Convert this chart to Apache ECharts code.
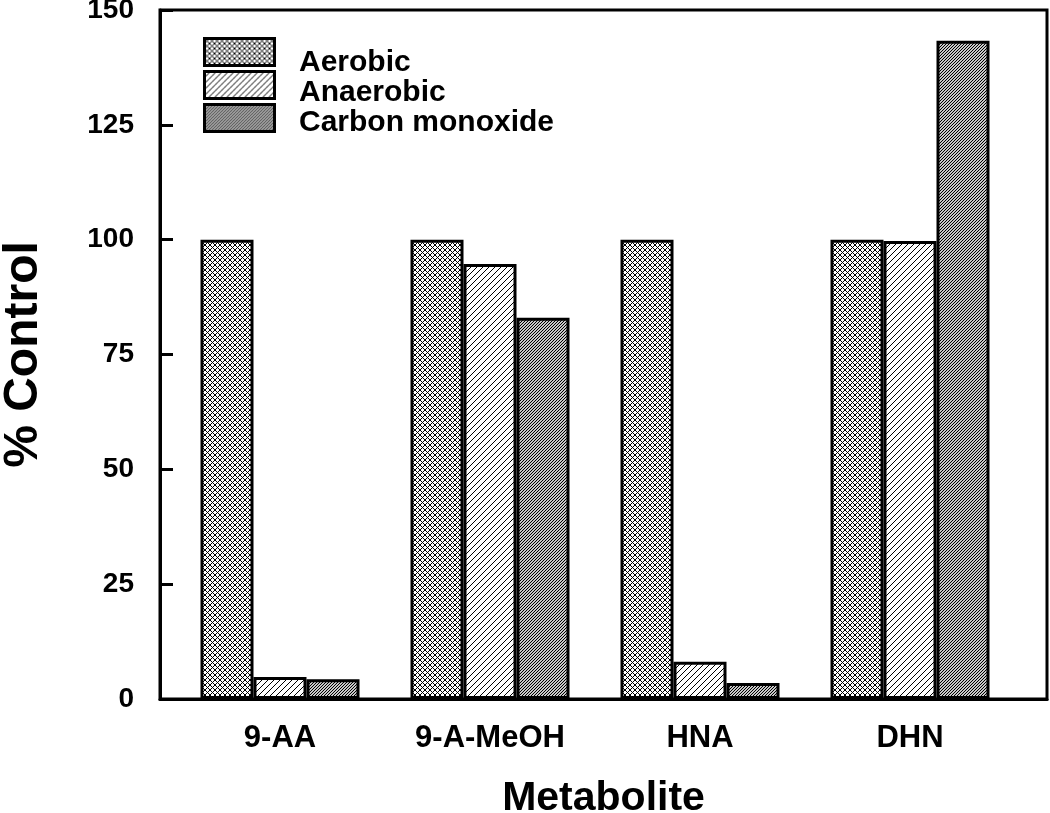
<!DOCTYPE html>
<html><head><meta charset="utf-8">
<script src="https://cdn.jsdelivr.net/npm/echarts@6/dist/echarts.min.js"></script>
<style>html,body{margin:0;padding:0;background:#fff}#c{width:1050px;height:813px}</style>
</head><body><div id="c"></div>
<script>
const categories = ['9-AA', '9-A-MeOH', 'HNA', 'DHN'];
const seriesNames = ['Aerobic', 'Anaerobic', 'Carbon monoxide'];
const aerobic = [100, 100, 100, 100];
const anaerobic = [4.8, 94.7, 8.1, 99.7];
const carbonMonoxide = [4.3, 83.0, 3.5, 143.3];
const yMin = 0, yMax = 150, yStep = 25;

function makeTile(size, bg, draw) {
  const c = document.createElement('canvas');
  c.width = size; c.height = size;
  const g = c.getContext('2d');
  g.fillStyle = bg; g.fillRect(0, 0, size, size);
  g.fillStyle = '#000';
  draw(g, size);
  return c;
}
const crossTile = makeTile(5, '#fff', (g, n) => { for (let i = 0; i < n; i++) { g.fillRect(i, n - 1 - i, 1, 1); g.fillRect(i, i, 1, 1); } });
const diagTile = makeTile(6, '#fff', (g, n) => { for (let i = 0; i < n; i++) { g.fillRect(i, n - 1 - i, 1, 1); } });
const denseTile = makeTile(3, '#c8c8c8', (g, n) => { for (let i = 0; i < n; i++) { g.fillRect(i, n - 1 - i, 1, 1); } });
const fills = [crossTile, diagTile, denseTile].map(t => ({ image: t, repeat: 'repeat' }));
const values = [aerobic, anaerobic, carbonMonoxide];

const FONT = '"Liberation Sans", Arial, sans-serif';
const chart = echarts.init(document.getElementById('c'), null, { renderer: 'canvas' });
const option = {
  animation: false,
  backgroundColor: '#fff',
  grid: [
    { left: 160, right: 3, top: 10, bottom: 114, outerBoundsMode: 'none', containLabel: false, show: true, borderColor: '#000', borderWidth: 3, backgroundColor: 'transparent' },
    { left: 175, right: 35, top: 10, bottom: 114, outerBoundsMode: 'none', containLabel: false }
  ],
  legend: [
    { // swatches
      orient: 'vertical', left: 198, top: 32,
      itemWidth: 70, itemHeight: 27, itemGap: 3,
      icon: 'rect', data: seriesNames, selectedMode: false,
      itemStyle: { borderColor: '#000', borderWidth: 3 },
      formatter: () => '',
      textStyle: { fontSize: 1 }
    },
    { // labels
      orient: 'vertical', left: 289, top: 43,
      itemWidth: 0, itemHeight: 30, itemGap: 0,
      icon: 'none', data: seriesNames, selectedMode: false,
      textStyle: { fontFamily: FONT, fontWeight: 'bold', fontSize: 30, color: '#000' }
    }
  ],
  xAxis: [
    { gridIndex: 0, type: 'value', min: 0, max: 1, axisLine: { show: true, lineStyle: { color: '#000', width: 3 } }, axisTick: { show: false }, axisLabel: { show: false }, splitLine: { show: false },
      name: 'Metabolite', nameLocation: 'middle', nameGap: 79, nameTextStyle: { fontFamily: FONT, fontWeight: 'bold', fontSize: 41, color: '#000' } },
    { gridIndex: 1, type: 'category', data: categories, axisLine: { show: false }, axisTick: { show: false },
      axisLabel: { margin: 24, fontFamily: FONT, fontWeight: 'bold', fontSize: 31, color: '#000' } }
  ],
  yAxis: [
    { gridIndex: 0, type: 'value', min: yMin, max: yMax, interval: yStep,
      axisLine: { show: true, lineStyle: { color: '#000', width: 3 } },
      axisTick: { show: true, inside: true, length: 13, lineStyle: { color: '#000', width: 3 } },
      axisLabel: { margin: 26, fontFamily: FONT, fontWeight: 'bold', fontSize: 28, color: '#000' },
      splitLine: { show: false },
      name: '% Control', nameLocation: 'middle', nameGap: 112, nameTextStyle: { fontFamily: FONT, fontWeight: 'bold', fontSize: 48, color: '#000' } },
    { gridIndex: 1, type: 'value', min: yMin, max: yMax, interval: yStep, show: false }
  ],
  series: seriesNames.map((name, k) => ({
    name, type: 'bar', xAxisIndex: 1, yAxisIndex: 1,
    data: values[k], barWidth: 53, barGap: '0%',
    itemStyle: { color: fills[k], borderColor: '#000', borderWidth: 3 }
  }))
};
chart.setOption(option);
</script></body></html>
